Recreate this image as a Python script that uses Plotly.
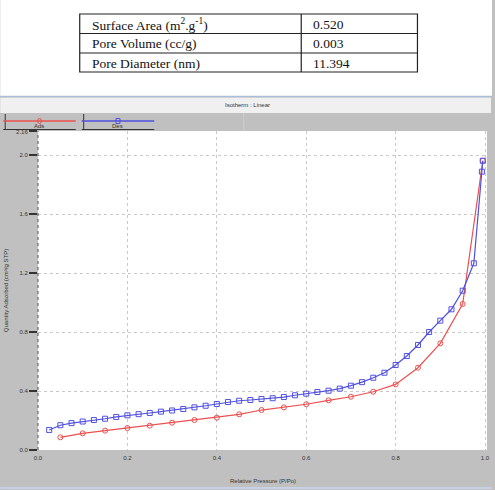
import plotly.graph_objects as go

# ---- data ----
ads_p = [0.05, 0.10, 0.15, 0.20, 0.25, 0.30, 0.35, 0.40, 0.45, 0.50,
         0.55, 0.60, 0.65, 0.70, 0.75, 0.80, 0.85, 0.90, 0.95, 0.995]
ads_q = [0.086, 0.113, 0.131, 0.149, 0.165, 0.185, 0.203, 0.219, 0.242, 0.271,
         0.289, 0.310, 0.337, 0.361, 0.395, 0.445, 0.558, 0.723, 0.990, 1.961]

des_p = [0.995, 0.993, 0.975, 0.95, 0.925, 0.90, 0.875, 0.85, 0.825, 0.80,
         0.775, 0.75, 0.725, 0.70, 0.675, 0.65, 0.625, 0.60, 0.575, 0.55,
         0.525, 0.50, 0.475, 0.45, 0.425, 0.40, 0.375, 0.35, 0.325, 0.30,
         0.275, 0.25, 0.225, 0.20, 0.175, 0.15, 0.125, 0.10, 0.075, 0.05, 0.025]
des_q = [1.961, 1.887, 1.266, 1.080, 0.954, 0.877, 0.800, 0.712, 0.637, 0.576,
         0.524, 0.490, 0.460, 0.436, 0.416, 0.402, 0.393, 0.382, 0.371, 0.359,
         0.351, 0.346, 0.339, 0.334, 0.325, 0.312, 0.300, 0.289, 0.278, 0.268,
         0.260, 0.251, 0.243, 0.235, 0.224, 0.212, 0.203, 0.193, 0.182, 0.168, 0.136]

table_labels = ["Surface Area (m<sup>2</sup>.g<sup>-1</sup>)", "Pore Volume (cc/g)", "Pore Diameter (nm)"]
table_values = ["0.520", "0.003", "11.394"]

x_ticks = [0.0, 0.2, 0.4, 0.6, 0.8, 1.0]
x_ticktext = ["0.0", "0.2", "0.4", "0.6", "0.8", "1.0"]
y_ticks = [0.0, 0.4, 0.8, 1.2, 1.6, 2.0, 2.16]
y_ticktext = ["0.0", "0.4", "0.8", "1.2", "1.6", "2.0", "2.16"]

# ---- layout geometry (pixels) ----
W, H = 495, 490
L, R, T, B = 38, 5, 131, 40
PW, PH = W - L - R, H - T - B


def px(x):
    return (x - L) / PW


def py(y):
    return (H - B - y) / PH


RED = "rgb(235,80,80)"
BLUE = "rgb(80,80,225)"
SMALL = dict(size=6, color="#333", family="Arial")

fig = go.Figure()
fig.add_trace(go.Scatter(x=ads_p, y=ads_q, mode="lines+markers", name="Ads",
                         line=dict(color=RED, width=1.2),
                         marker=dict(symbol="circle-open", size=5, color=RED, line=dict(width=1))))
fig.add_trace(go.Scatter(x=des_p, y=des_q, mode="lines+markers", name="Des",
                         line=dict(color=BLUE, width=1.2),
                         marker=dict(symbol="square-open", size=5, color=BLUE, line=dict(width=1))))

shapes = []
annotations = []

# white region on top (table area)
shapes.append(dict(type="rect", xref="paper", yref="paper", x0=px(0), x1=px(W), y0=py(96), y1=py(0),
                   fillcolor="white", line=dict(width=0), layer="below"))
# window border line
shapes.append(dict(type="line", xref="paper", yref="paper", x0=px(0), x1=px(W), y0=py(96.5), y1=py(96.5),
                   line=dict(color="rgb(170,190,220)", width=1.5)))
# title bar
shapes.append(dict(type="rect", xref="paper", yref="paper", x0=px(0), x1=px(494), y0=py(113), y1=py(97.5),
                   fillcolor="rgb(240,240,240)", line=dict(width=0), layer="below"))
annotations.append(dict(text="Isotherm : Linear", xref="paper", yref="paper", x=px(249), y=py(105),
                        showarrow=False, font=SMALL, xanchor="center", yanchor="middle"))
# separator in legend band
shapes.append(dict(type="line", xref="paper", yref="paper", x0=px(245), x1=px(245), y0=py(131), y1=py(113),
                   line=dict(color="rgb(205,205,205)", width=1)))

# legend entries
for (x0, x1, col, sym, lab) in [(3, 76, RED, "circle", "Ads"), (82, 155, BLUE, "square", "Des")]:
    shapes.append(dict(type="line", xref="paper", yref="paper", x0=px(x0 + 2), x1=px(x0 + 2),
                       y0=py(130), y1=py(114), line=dict(color="#333", width=1)))
    shapes.append(dict(type="line", xref="paper", yref="paper", x0=px(x0), x1=px(x1),
                       y0=py(129.5), y1=py(129.5), line=dict(color="#333", width=1)))
    shapes.append(dict(type="line", xref="paper", yref="paper", x0=px(x0), x1=px(x1),
                       y0=py(121), y1=py(121), line=dict(color=col, width=1.3)))
    cx = (x0 + x1) / 2
    if sym == "circle":
        shapes.append(dict(type="circle", xref="paper", yref="paper", x0=px(cx - 2), x1=px(cx + 2),
                           y0=py(123.5), y1=py(118.5), line=dict(color=col, width=1)))
    else:
        shapes.append(dict(type="rect", xref="paper", yref="paper", x0=px(cx - 2), x1=px(cx + 2),
                           y0=py(123.5), y1=py(118.5), line=dict(color=col, width=1)))
    annotations.append(dict(text=lab, xref="paper", yref="paper", x=px(cx), y=py(126),
                            showarrow=False, font=SMALL,
                            xanchor="center", yanchor="middle"))

# dotted y axis line
shapes.append(dict(type="line", xref="paper", yref="paper", x0=0, x1=0, y0=0, y1=1,
                   line=dict(color="#555", width=1, dash="dot")))
# bottom window border
shapes.append(dict(type="line", xref="paper", yref="paper", x0=px(0), x1=px(W), y0=py(488), y1=py(488),
                   line=dict(color="rgb(200,210,230)", width=2)))

# table
tl, tr, tm, tt, tb = 80, 420, 303, 14, 72
rows = [14, 33.5, 53, 72]
shapes.append(dict(type="rect", xref="paper", yref="paper", x0=px(tl), x1=px(tr), y0=py(tb), y1=py(tt),
                   line=dict(color="#222", width=1.2)))
shapes.append(dict(type="line", xref="paper", yref="paper", x0=px(tm), x1=px(tm), y0=py(tb), y1=py(tt),
                   line=dict(color="#222", width=1.2)))
for r in rows[1:-1]:
    shapes.append(dict(type="line", xref="paper", yref="paper", x0=px(tl), x1=px(tr), y0=py(r), y1=py(r),
                       line=dict(color="#222", width=1.2)))
for i, (lab, val) in enumerate(zip(table_labels, table_values)):
    yc = (rows[i] + rows[i + 1]) / 2 + 0.5
    annotations.append(dict(text=lab, xref="paper", yref="paper", x=px(90), y=py(yc), showarrow=False,
                            xanchor="left", yanchor="middle",
                            font=dict(family="Liberation Serif", size=13.5, color="#111")))
    annotations.append(dict(text=val, xref="paper", yref="paper", x=px(313), y=py(yc), showarrow=False,
                            xanchor="left", yanchor="middle",
                            font=dict(family="Liberation Serif", size=13.5, color="#111")))

# axis titles
annotations.append(dict(text="Relative Pressure (P/Po)", xref="paper", yref="paper", x=px(264), y=py(481),
                        showarrow=False, xanchor="center", yanchor="middle", font=SMALL))
annotations.append(dict(text="Quantity Adsorbed (cm\u00b3/g STP)", xref="paper", yref="paper", x=px(6), y=py(291),
                        showarrow=False, xanchor="center", yanchor="middle", textangle=-90, font=SMALL))

fig.update_layout(
    width=W, height=H,
    margin=dict(l=L, r=R, t=T, b=B),
    paper_bgcolor="rgb(192,192,192)",
    plot_bgcolor="white",
    showlegend=False,
    shapes=shapes,
    annotations=annotations,
    xaxis=dict(range=[0, PW / 450.0], tickvals=x_ticks, ticktext=x_ticktext,
               showgrid=True, gridcolor="rgb(200,200,200)", griddash="dot", gridwidth=1,
               zeroline=False, showline=False, ticks="", ticklabelstandoff=3,
               tickfont=SMALL),
    yaxis=dict(range=[0, PH / 147.5], tickvals=y_ticks, ticktext=y_ticktext,
               showgrid=True, gridcolor="rgb(200,200,200)", griddash="dot", gridwidth=1,
               zeroline=False, showline=False, ticks="outside", ticklen=8, tickwidth=1.5, tickcolor="#333",
               ticklabelstandoff=0, tickfont=SMALL),
)

fig.write_html("out.html")
